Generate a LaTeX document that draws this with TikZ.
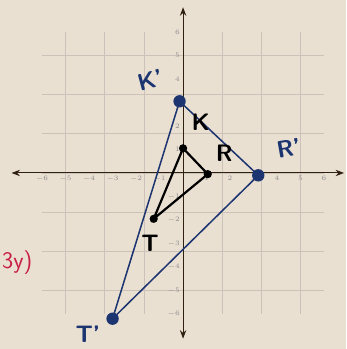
\documentclass[tikz,border=0pt]{standalone}
\usepackage{xcolor}
\usepackage{tikz}
\usetikzlibrary{arrows.meta,calc}

\definecolor{paper}{RGB}{234,224,210}
\definecolor{gridc}{RGB}{204,194,186}
\definecolor{inkblue}{RGB}{28,52,112}
\definecolor{inkred}{RGB}{200,30,70}

\tikzset{
  gridline/.style={gridc, line width=0.5pt},
  axisline/.style={<->, line width=0.7pt, black!75!brown},
  ticklabel/.style={font=\sffamily\tiny, text=black!45, inner sep=1pt},
  bluedot/.style={circle, fill=inkblue, inner sep=0pt, minimum size=9pt},
  blackdot/.style={circle, fill=black, inner sep=0pt, minimum size=6pt},
  hand/.style={font=\sffamily\bfseries\LARGE, inner sep=0pt}
}

\begin{document}
\begin{tikzpicture}[>=Stealth, thick, x=0.6cm, y=0.6cm]
  % paper and frame
  \fill[paper] (-7.79,-7.49) rectangle (6.94,7.36);
  \useasboundingbox (-7.79,-7.49) rectangle (6.94,7.36);
  \draw[gridline] (-6,-6) grid (6,6);

  % axes
  \coordinate (xl) at (-7.3,0);
  \coordinate (xr) at (6.85,0);
  \coordinate (yb) at (0,-7.05);
  \coordinate (yt) at (0,7.05);
  \draw[axisline] (xl) -- (xr);
  \draw[axisline] (yb) -- (yt);
  \foreach \i in {-6,...,-1,1,2,...,6} {
    \node[ticklabel, below=1pt] at (\i,0) {$\i$};
    \node[ticklabel, left=1pt] at (0,\i) {$\i$};
  }

  % image triangle K'R'T'
  \node[bluedot] (Kp) at (-0.15,3.05) {};
  \node[bluedot] (Rp) at (3.2,-0.1) {};
  \node[bluedot] (Tp) at (-3,-6.2) {};
  \draw[inkblue, line width=1.1pt] (Kp.center) -- (Rp.center) -- (Tp.center) -- cycle;

  % original triangle KRT
  \node[blackdot] (K) at (0,1.05) {};
  \node[blackdot] (R) at (1.05,-0.05) {};
  \node[blackdot] (T) at (-1.25,-1.95) {};
  \draw[line width=1.6pt] (K.center) -- (R.center) -- (T.center) -- cycle;

  % labels
  \node[hand, text=inkblue, rotate=15] (Kplab) at (-1.4,3.95) {K'};
  \node[hand, text=inkblue, rotate=10] (Rplab) at (4.5,1.05) {R'};
  \node[hand, text=inkblue] (Tplab) at (-4.05,-6.85) {T'};
  \node[hand] (Klab) at (0.75,2.15) {K};
  \node[hand] (Rlab) at (1.75,0.85) {R};
  \node[hand] (Tlab) at (-1.4,-3.0) {T};
  \node[hand, text=inkred, font=\sffamily\LARGE, anchor=west] (rule) at (-7.72,-3.8) {3y)};
\end{tikzpicture}
\end{document}
